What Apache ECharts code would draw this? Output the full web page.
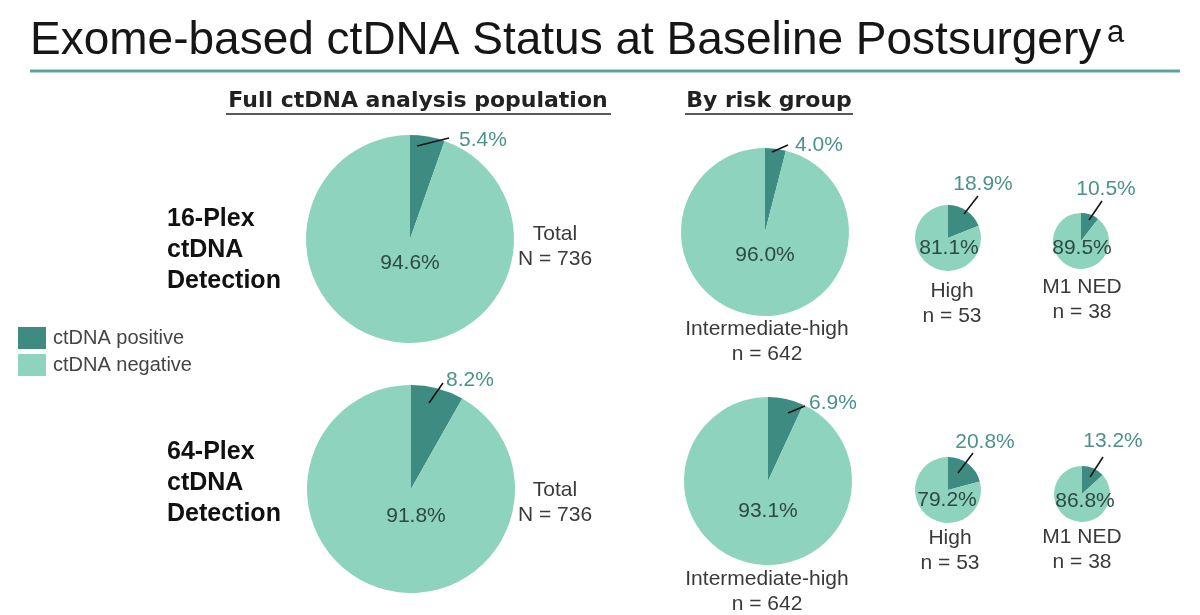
<!DOCTYPE html>
<html><head><meta charset="utf-8">
<script src="https://cdn.jsdelivr.net/npm/echarts@6/dist/echarts.min.js"></script>
<style>html,body{margin:0;padding:0;background:#fff}#c{width:1200px;height:615px}</style>
</head><body><div id="c"></div>
<script>
// ---- data ----
const assays = ['16-Plex', '64-Plex'];
const groups = ['Full', 'Intermediate-high', 'High', 'M1 NED'];
const groupN = [736, 642, 53, 38];
const positive16 = [5.4, 4.0, 18.9, 10.5];
const negative16 = [94.6, 96.0, 81.1, 89.5];
const positive64 = [8.2, 6.9, 20.8, 13.2];
const negative64 = [91.8, 93.1, 79.2, 86.8];
const statusNames = ['ctDNA positive', 'ctDNA negative'];

// ---- layout / style ----
const DARK = '#3e8c81', LIGHT = '#8ed3bd';
const FONT = '"Liberation Sans", Arial, sans-serif';
const pieCenters = [
  [[410, 239], [765, 232], [948, 238], [1081, 241]],
  [[411, 489], [768, 481], [948, 490], [1082, 494]]
];
const pieRadii = [104, 84, 33, 28];
// leader-line start (a), end (b) and label anchor (t), relative to pie centre
const outGeom = [
  [{a:[7,-93], b:[39,-101], t:[49,-99], al:'left'}, {a:[7,-80], b:[23,-87], t:[30,-87], al:'left'},
   {a:[16,-24], b:[30,-42], t:[35,-54], al:'center'}, {a:[8,-21], b:[21,-40], t:[25,-52], al:'center'}],
  [{a:[18,-86], b:[32,-106], t:[35,-109], al:'left'}, {a:[20,-68], b:[37,-75], t:[41,-78], al:'left'},
   {a:[10,-17], b:[25,-37], t:[37,-48], al:'center'}, {a:[8,-17], b:[21,-37], t:[31,-53], al:'center'}]
];
const inOffset = [[[0,24],[0,23],[1,10],[1,7]], [[5,27],[0,30],[-1,10],[3,7]]];
const captionPos = [[[555,247],[767,342],[952,304],[1082,300]], [[555,503],[767,592],[950,551],[1082,550]]];
const rowLabelPos = [[167, 250], [167, 483]];

const series = [];
const graphics = [];

assays.forEach((assay, r) => {
  const pos = r === 0 ? positive16 : positive64;
  const neg = r === 0 ? negative16 : negative64;
  groups.forEach((g, c) => {
    const geo = outGeom[r][c], cen = pieCenters[r][c], off = inOffset[r][c];
    series.push({
      type: 'pie', name: assay + ' ' + g, center: cen, radius: pieRadii[c],
      startAngle: 90, clockwise: true, animation: false, silent: true,
      avoidLabelOverlap: false,
      label: { formatter: p => p.value.toFixed(1) + '%', fontFamily: FONT, fontSize: 21 },
      data: [
        { name: statusNames[0], value: pos[c], itemStyle: { color: DARK },
          label: { show: true, position: 'outside', color: '#4b928a' },
          labelLine: { show: false } },
        { name: statusNames[1], value: neg[c], itemStyle: { color: LIGHT },
          label: { show: true, position: 'inside', color: '#2c4a43' },
          labelLine: { show: false } }
      ],
      labelLayout: p => {
        if (p.dataIndex === 0) {
          return { x: cen[0] + geo.t[0], y: cen[1] + geo.t[1], align: geo.al, verticalAlign: 'middle' };
        }
        return { x: cen[0] + off[0], y: cen[1] + off[1], align: 'center', verticalAlign: 'middle' };
      }
    });
    // leader line for the positive-slice label
    graphics.push({ type: 'line', silent: true, z: 100,
      shape: { x1: cen[0] + geo.a[0], y1: cen[1] + geo.a[1], x2: cen[0] + geo.b[0], y2: cen[1] + geo.b[1] },
      style: { stroke: '#151515', lineWidth: 1.6 } });
    const cp = captionPos[r][c];
    const txt = c === 0 ? 'Total\nN = ' + groupN[c] : g + '\nn = ' + groupN[c];
    graphics.push({ type: 'text', x: cp[0], y: cp[1], silent: true,
      style: { text: txt, fontFamily: FONT, fontSize: 21, lineHeight: 25, fill: '#3a3a3a', align: 'center', verticalAlign: 'middle' } });
  });
  graphics.push({ type: 'text', x: rowLabelPos[r][0], y: rowLabelPos[r][1], silent: true,
    style: { text: assay + '\nctDNA\nDetection', fontFamily: FONT, fontWeight: 'bold', fontSize: 25, lineHeight: 31,
             fill: '#111', align: 'left', verticalAlign: 'middle' } });
});

// title + headers
graphics.push(
  { type: 'text', x: 30, y: 41, silent: true,
    style: { text: 'Exome-based ctDNA Status at Baseline Postsurgery', fontFamily: FONT, fontSize: 46, fill: '#161616', align: 'left', verticalAlign: 'middle' } },
  { type: 'text', x: 1107, y: 33, silent: true,
    style: { text: 'a', fontFamily: FONT, fontSize: 31, fill: '#161616', align: 'left', verticalAlign: 'middle' } },
  { type: 'line', silent: true, shape: { x1: 30, y1: 71, x2: 1180, y2: 71 }, style: { stroke: '#5ca39b', lineWidth: 3 } },
  { type: 'text', x: 418, y: 101, silent: true,
    style: { text: 'Full ctDNA analysis population', fontFamily: '"DejaVu Sans", sans-serif', fontWeight: 'bold', fontSize: 22, fill: '#222', align: 'center', verticalAlign: 'middle' } },
  { type: 'line', silent: true, shape: { x1: 226, y1: 114, x2: 611, y2: 114 }, style: { stroke: '#222', lineWidth: 1.5 } },
  { type: 'text', x: 769, y: 101, silent: true,
    style: { text: 'By risk group', fontFamily: '"DejaVu Sans", sans-serif', fontWeight: 'bold', fontSize: 22, fill: '#222', align: 'center', verticalAlign: 'middle' } },
  { type: 'line', silent: true, shape: { x1: 685, y1: 114, x2: 853, y2: 114 }, style: { stroke: '#222', lineWidth: 1.5 } }
);

const chart = echarts.init(document.getElementById('c'), null, { renderer: 'canvas' });
chart.setOption({
  backgroundColor: '#ffffff',
  animation: false,
  legend: { orient: 'vertical', left: 18, top: 327, padding: 0, itemWidth: 28, itemHeight: 22, itemGap: 5, icon: 'rect',
            data: statusNames, selectedMode: false,
            textStyle: { fontSize: 20, color: '#444', fontFamily: FONT, padding: [0, 0, 0, 2] } },
  graphic: { elements: graphics },
  series: series
});
</script></body></html>
